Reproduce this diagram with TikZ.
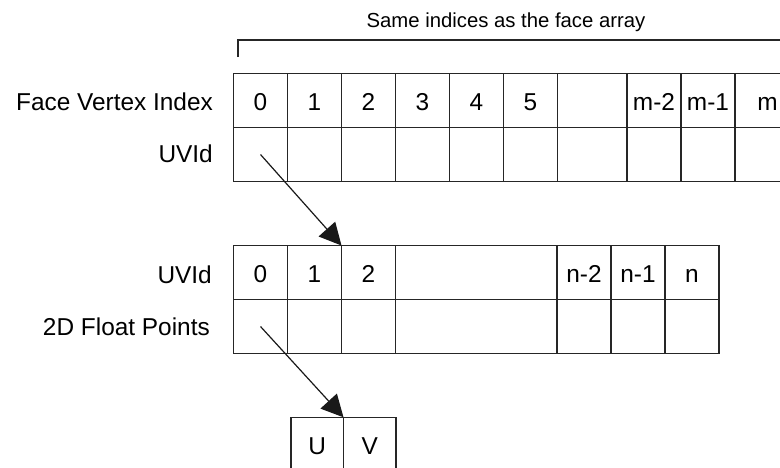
\documentclass[tikz,border=0pt]{standalone}
\usepackage{fontspec}
\setmainfont{Liberation Sans}
\usetikzlibrary{arrows.meta}
\tikzset{
  cell/.style={draw=black!85, line width=1.2pt, rectangle, inner sep=0pt, outer sep=0pt,
    minimum height=54pt, text height=20pt, text depth=0pt, align=center,
    font=\fontsize{24.4}{29}\selectfont},
  rowlbl/.style={inner sep=0pt, anchor=base east, font=\fontsize{24.4}{29}\selectfont},
  toplbl/.style={inner sep=0pt, anchor=base, font=\fontsize{20.3}{24}\selectfont},
  link/.style={draw=black!90, line width=1.2pt, -{Triangle[length=22pt,width=22pt]}},
  brace/.style={draw=black!85, line width=1.2pt}
}
\begin{document}
\begin{tikzpicture}[x=1pt,y=-1pt]
\useasboundingbox (0,0) rectangle (780,467);
\clip (0,0) rectangle (780,467);

% caption and bracket
\node[toplbl] (cap) at (506,27) {Same indices as the face array};
\coordinate (brA) at (238,57);
\coordinate (brB) at (238,40);
\coordinate (brC) at (800,40);
\draw[brace] (brA) -- (brB) -- (brC);

% top table row labels
\node[rowlbl] (lfvi) at (213,110) {Face Vertex Index};
\node[rowlbl] (luv1) at (213,162) {UVId};

% top table: first row
\foreach \nm/\cx/\w/\t in {a0/260.5/54/0, a1/314.5/54/1, a2/368.5/54/2, a3/422.5/54/3,
    a4/476.5/54/4, a5/530.5/54/5, a6/592.25/69.5/{}, a7/654/54/m-2, a8/708/54/m-1,
    a9/767.5/65/m}
  \node[cell, minimum width=\w pt] (\nm) at (\cx,100.5) {\t};
% top table: second row
\foreach \nm/\cx/\w in {b0/260.5/54, b1/314.5/54, b2/368.5/54, b3/422.5/54,
    b4/476.5/54, b5/530.5/54, b6/592.25/69.5, b7/654/54, b8/708/54,
    b9/767.5/65}
  \node[cell, minimum width=\w pt] (\nm) at (\cx,154.5) {};

% second table labels
\node[rowlbl] (luv2) at (212,283) {UVId};
\node[rowlbl] (lfp) at (210,335) {2D Float Points};

% second table: first row
\foreach \nm/\cx/\w/\t in {c0/260.5/54/0, c1/314.5/54/1, c2/368.5/54/2,
    c3/476.25/161.5/{}, c4/584/54/n-2, c5/638/54/n-1, c6/692/54/n}
  \node[cell, minimum width=\w pt] (\nm) at (\cx,272.5) {\t};
% second table: second row
\foreach \nm/\cx/\w in {d0/260.5/54, d1/314.5/54, d2/368.5/54,
    d3/476.25/161.5, d4/584/54, d5/638/54, d6/692/54}
  \node[cell, minimum width=\w pt] (\nm) at (\cx,326.5) {};

% UV pair
\node[cell, minimum width=52.5pt] (uu) at (317.25,444.3) {U};
\node[cell, minimum width=52.5pt] (vv) at (369.75,444.3) {V};

% connectors
\draw[link] (b0.center) -- (c2.north west);
\draw[link] (d0.center) -- (uu.north east);
\end{tikzpicture}
\end{document}
